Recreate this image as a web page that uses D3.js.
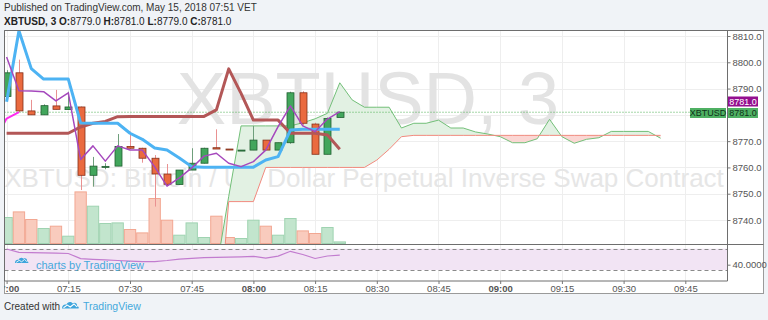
<!DOCTYPE html>
<html>
<head>
<meta charset="utf-8">
<script src="https://cdn.jsdelivr.net/npm/d3@7"></script>
<style>
body{margin:0;background:#f0f3f7;}
svg{display:block;font-family:"Liberation Sans",Arial,sans-serif;}
</style>
</head>
<body>
<svg width="768" height="320"></svg>
<script>
// candles, 3 minute bars
var times = ["07:00","07:03","07:06","07:09","07:12","07:15","07:18","07:21","07:24","07:27",
             "07:30","07:33","07:36","07:39","07:42","07:45","07:48","07:51","07:54","07:57",
             "08:00","08:03","08:06","08:09","08:12","08:15","08:18","08:21"];
var opens  = [8787,8796,8781.5,8780,8783.4,8782,8783,8757,8760.3,8760.5,8768,8767.3,8763.5,8757.5,8753.5,8759,8761.6,8767.5,8767,8766.6,8766.6,8770.4,8766.6,8769.4,8788.4,8776.5,8765,8779];
var highs  = [8797,8801,8785.7,8784,8789.5,8788.8,8783.2,8764,8761.6,8772.7,8773.6,8767.5,8764.7,8761.3,8759,8767.3,8767.5,8774.5,8767,8766.6,8775.8,8770.4,8769.4,8788.8,8789,8777,8779,8781];
var lows   = [8786,8781,8780,8780,8782,8782,8751.4,8752.7,8759.3,8760.5,8767,8761.8,8745.1,8753,8753.3,8759,8761.5,8767,8766.9,8766.6,8766.6,8766.6,8766.6,8769,8776,8765,8765,8779];
var closes = [8796,8781.5,8780,8783.5,8782.1,8783,8757,8760.5,8760.4,8768,8767.3,8763.5,8757.5,8753.6,8759,8761.6,8767.3,8767,8766.9,8766.6,8770.4,8766.6,8769.4,8788.4,8776.8,8765,8778.6,8781];
var volumes = [260,316,240,150,173,73,516,373,200,206,140,106,450,233,83,206,60,273,60,50,233,173,83,250,126,100,160,16];

// indicator lines
var conversionLine = [8785,8812,8797.6,8793.6,8793.6,8793.6,8776.9,8776.8,8776.8,8776.8,8773,8770.7,8767.4,8766.6,8763.6,8760.3,8760.1,8760.1,8760.1,8760.1,8760.1,8762.8,8764.1,8774.2,8774.5,8774.5,8774.5,8774.5];
var baseLine = [8773,8773,8773,8773,8773,8773,8775.4,8776.8,8777.5,8779.3,8779.4,8779.4,8779.4,8779.4,8779.4,8779.4,8779.4,8781.9,8797.5,8788.2,8778,8778,8778,8773,8773,8773,8772.3,8766.9];
var maLine = [8802,8789.2,8789.1,8788.8,8785.3,8788.4,8763,8768.2,8762.4,8768.2,8766.6,8766.6,8760.2,8752.9,8756,8759.8,8764.3,8765.4,8761.6,8760.3,8762.2,8766.6,8775.5,8783.4,8775.8,8773.6,8778.4,8781.2];
var laggingTimes = ["06:57","07:00","07:03"];
var laggingSpan = [8770,8778.6,8781];

// cloud, starts at 07:51 and runs 26 bars past the last candle
var leadStart = "07:51";
var leadA = [8721,8749,8775.8,8775.8,8775.8,8775.8,8775.8,8777,8778.5,8780.6,8792.2,8785.7,8782.9,8782.9,8782.9,8775,8776.8,8776.8,8778,8775,8775,8773.5,8772.7,8771.7,8769.4,8769.4,8770.9,8778.3,8771.7,8769.2,8770.7,8771.3,8773.7,8773.7,8773.7,8773.7,8771.1];
var leadB = [8690,8747,8747,8747,8760,8760,8760,8760,8760,8760,8760,8760,8760,8762.8,8766.9,8771.7,8772.2,8772.2,8772.2,8772.2,8772.2,8772.2,8772.2,8772.2,8772.2,8772.2,8772.2,8772.2,8772.2,8772.2,8772.2,8772.2,8772.2,8772.2,8772.2,8772.2,8772.2];

// lower pane oscillator
var oscValues = [69.4,63,62.6,62.1,61.7,61,51.4,50.1,48.9,47.8,46.7,45.8,45.6,47.8,50.6,51.9,53.1,53.6,54,54.6,55.7,52.3,56.1,65.1,59.1,51.6,56.3,58.1];

var gridPrices = [8740,8750,8760,8770,8780,8790,8800,8810];
var priceLabels = [8740,8750,8760,8770,8790,8800,8810];
var lastPrice = 8781;
var maLast = 8781.0;

var svg = d3.select("svg");
var padL = 4.5, padR = 727.5, padT = 30.5, paneBottom = 244.5, lowBottom = 281, axisBottom = 293.5, outerRight = 763.5;

var parse = d3.timeParse("%H:%M");
var x = d3.scaleTime().domain([parse("07:00"), parse("09:45")]).range([6.6, 685.3]);
var y = d3.scaleLinear().domain([8740, 8810]).range([220, 36]);
var yVol = d3.scaleLinear().domain([0, 600]).range([paneBottom - 1, paneBottom - 61]);
var yOsc = d3.scaleLinear().domain([30, 70]).range([270, 248.7]);

var t = times.map(parse);
var barW = x(t[1]) - x(t[0]);
var leadTimes = leadA.map(function(d, i) { return d3.timeMinute.offset(parse(leadStart), 3 * i); });

var defs = svg.append("defs");
defs.append("clipPath").attr("id", "pane").append("rect")
  .attr("x", padL).attr("y", padT).attr("width", padR - padL).attr("height", paneBottom - padT);
defs.append("clipPath").attr("id", "low").append("rect")
  .attr("x", padL).attr("y", paneBottom).attr("width", padR - padL).attr("height", lowBottom - paneBottom);
defs.append("clipPath").attr("id", "taxis").append("rect")
  .attr("x", padL).attr("y", lowBottom).attr("width", padR - padL).attr("height", axisBottom - lowBottom);

// header
svg.append("text").attr("x", 4).attr("y", 11).attr("font-size", 10).attr("fill", "#333")
  .text("Published on TradingView.com, May 15, 2018 07:51 VET");
var h2 = svg.append("text").attr("x", 4).attr("y", 25).attr("font-size", 10).attr("fill", "#222");
h2.append("tspan").attr("font-weight", "bold").text("XBTUSD, 3");
[["O:", "8779.0"], ["H:", "8781.0"], ["L:", "8779.0"], ["C:", "8781.0"]].forEach(function(p) {
  h2.append("tspan").attr("font-weight", "bold").text(" " + p[0]);
  h2.append("tspan").text(p[1]);
});

// chart background
svg.append("rect").attr("x", padL).attr("y", padT).attr("width", outerRight - padL).attr("height", axisBottom - padT)
  .attr("fill", "#fff");

// grid
var gridTimes = x.ticks(d3.timeMinute.every(15));
var grid = svg.append("g").attr("stroke", "#eeeeee").attr("stroke-width", 1);
gridTimes.forEach(function(d) {
  var gx = Math.round(x(d)) + 0.5;
  if (gx < padL || gx > padR) return;
  grid.append("line").attr("x1", gx).attr("x2", gx).attr("y1", padT).attr("y2", lowBottom);
});
gridPrices.forEach(function(d) {
  var gy = Math.round(y(d)) + 0.5;
  grid.append("line").attr("x1", padL).attr("x2", padR).attr("y1", gy).attr("y2", gy);
});

var pane = svg.append("g").attr("clip-path", "url(#pane)");

// watermark
pane.append("text").attr("x", 368).attr("y", 124).attr("text-anchor", "middle")
  .attr("font-size", 74).attr("fill", "#e3e3e3").text("XBTUSD, 3");
pane.append("text").attr("x", 364).attr("y", 187).attr("text-anchor", "middle")
  .attr("font-size", 26).attr("fill", "#e6e6e6").text("XBTUSD: Bitcoin / US Dollar Perpetual Inverse Swap Contract");

// volume
pane.selectAll(".vol").data(volumes).enter().append("rect")
  .attr("x", function(d, i) { return x(t[i]) - barW / 2 + 0.5; })
  .attr("width", barW - 1)
  .attr("y", function(d) { return yVol(d); })
  .attr("height", function(d) { return yVol(0) - yVol(d); })
  .attr("fill", function(d, i) { return closes[i] >= opens[i] ? "#c2e5cd" : "#f9cbbd"; })
  .attr("stroke", function(d, i) { return closes[i] >= opens[i] ? "#9fd3b1" : "#f2a792"; });

// cloud
var cloud = leadA.map(function(d, i) { return {t: leadTimes[i], a: d, b: leadB[i]}; });
var between = d3.area().x(function(d) { return x(d.t); }).y0(function(d) { return y(d.b); }).y1(function(d) { return y(d.a); });
defs.append("clipPath").attr("id", "aboveB").append("path")
  .attr("d", d3.area().x(function(d) { return x(d.t); }).y0(0).y1(function(d) { return y(d.b); })(cloud));
defs.append("clipPath").attr("id", "belowB").append("path")
  .attr("d", d3.area().x(function(d) { return x(d.t); }).y0(400).y1(function(d) { return y(d.b); })(cloud));
pane.append("g").attr("clip-path", "url(#aboveB)").append("path").attr("d", between(cloud)).attr("fill", "#e2f1e3");
pane.append("g").attr("clip-path", "url(#belowB)").append("path").attr("d", between(cloud)).attr("fill", "#fbd6d3");
pane.append("path").attr("d", d3.line().x(function(d) { return x(d.t); }).y(function(d) { return y(d.a); })(cloud))
  .attr("fill", "none").attr("stroke", "#72bf78").attr("stroke-width", 1);
pane.append("path").attr("d", d3.line().x(function(d) { return x(d.t); }).y(function(d) { return y(d.b); })(cloud))
  .attr("fill", "none").attr("stroke", "#f08a7e").attr("stroke-width", 1);

// last price line
pane.append("line").attr("x1", padL).attr("x2", padR).attr("y1", y(lastPrice)).attr("y2", y(lastPrice))
  .attr("stroke", "#4caf50").attr("stroke-dasharray", "1,2");

// candles
var candle = pane.selectAll(".candle").data(times).enter().append("g");
candle.append("line")
  .attr("x1", function(d, i) { return Math.round(x(t[i])) + 0.5; })
  .attr("x2", function(d, i) { return Math.round(x(t[i])) + 0.5; })
  .attr("y1", function(d, i) { return y(highs[i]); })
  .attr("y2", function(d, i) { return y(lows[i]); })
  .attr("stroke", function(d, i) { return closes[i] >= opens[i] ? "#6f9f7c" : "#e99191"; });
candle.append("rect")
  .attr("x", function(d, i) { return Math.round(x(t[i])) - 3; })
  .attr("width", 7)
  .attr("y", function(d, i) { return y(Math.max(opens[i], closes[i])); })
  .attr("height", function(d, i) { return Math.max(1, Math.abs(y(opens[i]) - y(closes[i]))); })
  .attr("fill", function(d, i) { return closes[i] >= opens[i] ? "#42a65c" : "#ea6a3f"; })
  .attr("stroke", function(d, i) { return closes[i] >= opens[i] ? "#215f31" : "#83301b"; })
  .attr("stroke-width", 0.8);

// indicator lines
function drawLine(values, ts, color, width) {
  pane.append("path")
    .attr("d", d3.line().x(function(d, i) { return x(ts[i]); }).y(function(d) { return y(d); })(values))
    .attr("fill", "none").attr("stroke", color).attr("stroke-width", width).attr("stroke-linejoin", "round");
}
drawLine(baseLine, t, "#b35757", 3);
drawLine(conversionLine, t, "#4db3f3", 3);
drawLine(maLine, t, "#a548bd", 1.5);
drawLine(laggingSpan, laggingTimes.map(parse), "#ff2bf0", 2);

// lower pane
var low = svg.append("g").attr("clip-path", "url(#low)");
low.append("rect").attr("x", padL).attr("width", padR - padL).attr("y", yOsc(70)).attr("height", yOsc(30) - yOsc(70))
  .attr("fill", "#f2e4f4");
[70, 30].forEach(function(v) {
  low.append("line").attr("x1", padL).attr("x2", padR).attr("y1", Math.round(yOsc(v)) + 0.5).attr("y2", Math.round(yOsc(v)) + 0.5)
    .attr("stroke", "#8a8a8a").attr("stroke-dasharray", "4,3");
});
low.append("path")
  .attr("d", d3.line().x(function(d, i) { return x(t[i]); }).y(function(d) { return yOsc(d); })(oscValues))
  .attr("fill", "none").attr("stroke", "#c27ccf").attr("stroke-width", 1.2);

function logo(g, lx, ly, s) {
  var lg = g.append("g").attr("transform", "translate(" + lx + "," + ly + ") scale(" + s + ")");
  lg.append("path").attr("fill", "#3ea5dc")
    .attr("d", "M0,10 C0,6 3,4 6,5 C7,1 12,0 14,3 C17,1 21,3 20,7 C22,7 23,9 22,10 Z");
  lg.append("path").attr("fill", "none").attr("stroke", "#fff").attr("stroke-width", 1.4)
    .attr("d", "M2,9 L7,5.5 L11,8 L16,4 L20,8");
}
logo(low, 15, 257, 0.6);
low.append("text").attr("x", 36).attr("y", 269).attr("font-size", 11).attr("fill", "#45a9dc").text("charts by TradingView");

// frames
var frame = svg.append("g").attr("fill", "none").attr("stroke", "#6e6e6e");
frame.append("rect").attr("x", padL).attr("y", padT).attr("width", outerRight - padL).attr("height", axisBottom - padT).attr("stroke", "#9a9a9a");
frame.append("line").attr("x1", padR).attr("x2", padR).attr("y1", padT).attr("y2", lowBottom);
frame.append("line").attr("x1", padL).attr("x2", outerRight).attr("y1", paneBottom).attr("y2", paneBottom);
frame.append("line").attr("x1", padL).attr("x2", padR).attr("y1", lowBottom).attr("y2", lowBottom);
frame.append("line").attr("x1", padL).attr("x2", padL).attr("y1", padT).attr("y2", lowBottom);
frame.append("line").attr("x1", padL).attr("x2", outerRight).attr("y1", padT).attr("y2", padT);

// price axis
var pa = svg.append("g").attr("transform", "translate(" + padR + ",0)")
  .call(d3.axisRight(y).tickValues(priceLabels).tickFormat(d3.format(".1f")).tickSize(3).tickPadding(2));
pa.select(".domain").remove();
pa.selectAll("line").attr("stroke", "#777");
pa.selectAll("text").attr("font-size", 9.5).attr("fill", "#555").attr("font-family", "Liberation Sans, Arial, sans-serif");

var oa = svg.append("g").attr("transform", "translate(" + padR + ",0)")
  .call(d3.axisRight(yOsc).tickValues([40]).tickFormat(d3.format(".4f")).tickSize(3).tickPadding(2));
oa.select(".domain").remove();
oa.selectAll("line").attr("stroke", "#777");
oa.selectAll("text").attr("font-size", 9.5).attr("fill", "#555").attr("font-family", "Liberation Sans, Arial, sans-serif");

// price labels
function priceTag(tx, ty, w, label, fill, color) {
  svg.append("rect").attr("x", tx).attr("y", ty).attr("width", w).attr("height", 10).attr("fill", fill);
  svg.append("text").attr("x", tx + w / 2).attr("y", ty + 8).attr("text-anchor", "middle")
    .attr("font-size", 9).attr("fill", color).text(label);
}
priceTag(728, 96.5, 30, d3.format(".1f")(maLast), "#940f8f", "#fff");
priceTag(728, 108, 30, d3.format(".1f")(lastPrice), "#4fb063", "#10321a");
priceTag(690, 108, 36, "XBTUSD", "#4fb063", "#10321a");

// time axis
var ta = svg.append("g").attr("clip-path", "url(#taxis)").append("g").attr("transform", "translate(0," + lowBottom + ")")
  .call(d3.axisBottom(x).ticks(d3.timeMinute.every(15)).tickFormat(d3.timeFormat("%H:%M")).tickSize(3).tickPadding(1));
ta.select(".domain").remove();
ta.selectAll("line").attr("stroke", "#777");
ta.selectAll("text").attr("font-size", 9.5).attr("fill", "#555").attr("font-family", "Liberation Sans, Arial, sans-serif")
  .attr("font-weight", function(d) { return d.getMinutes() === 0 ? "bold" : "normal"; });

// footer
svg.append("text").attr("x", 4).attr("y", 310).attr("font-size", 10).attr("fill", "#333").text("Created with");
logo(svg, 62, 301, 0.75);
svg.append("text").attr("x", 83).attr("y", 310).attr("font-size", 10.5).attr("fill", "#45a9dc").text("TradingView");
</script>
</body>
</html>
